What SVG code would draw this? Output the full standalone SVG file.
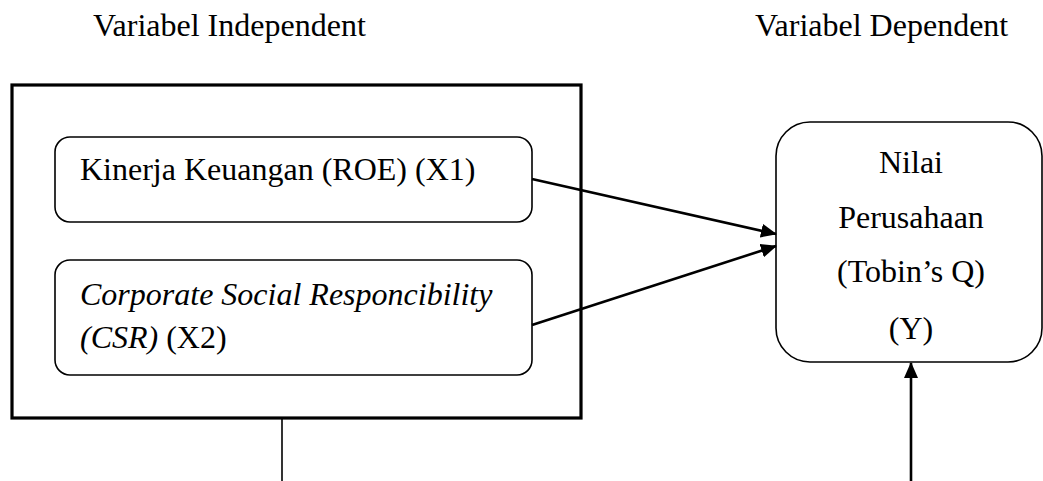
<svg xmlns="http://www.w3.org/2000/svg" width="1043" height="481" viewBox="0 0 1043 481">
<style>
text{font-family:"Liberation Serif","Times New Roman",serif;font-size:32px;fill:#000}
.it{font-style:italic}
.box{fill:#fff;stroke:#000;stroke-width:1.6}
.conn{stroke:#000;stroke-width:2.6;fill:none}
</style>
<defs>
<marker id="ah" markerWidth="16" markerHeight="14" refX="15" refY="7" orient="auto" markerUnits="userSpaceOnUse">
<path d="M0,0 L16,7 L0,14 Z" fill="#000"/>
</marker>
</defs>
<rect width="1043" height="481" fill="#fff"/>
<text x="93" y="36">Variabel Independent</text>
<text x="755" y="36">Variabel Dependent</text>
<g id="independent-group">
<rect x="12" y="85" width="569" height="333" fill="none" stroke="#000" stroke-width="3.2"/>
</g>
<g id="x1">
<rect class="box" x="55" y="137" width="477" height="85" rx="15"/>
<text x="80" y="180">Kinerja Keuangan (ROE) (X1)</text>
</g>
<g id="x2">
<rect class="box" x="55" y="260" width="477" height="115" rx="15"/>
<text x="80" y="305" class="it">Corporate Social Responcibility</text>
<text x="80" y="348"><tspan class="it">(CSR)</tspan> (X2)</text>
</g>
<g id="y">
<rect class="box" x="776" y="122" width="266" height="240" rx="34"/>
<text x="911" y="173" text-anchor="middle">Nilai</text>
<text x="911" y="228" text-anchor="middle">Perusahaan</text>
<text x="911" y="282" text-anchor="middle">(Tobin’s Q)</text>
<text x="911" y="339" text-anchor="middle">(Y)</text>
</g>
<g id="connectors">
<line class="conn" x1="532" y1="179" x2="776" y2="234" marker-end="url(#ah)"/>
<line class="conn" x1="532" y1="325" x2="776" y2="246" marker-end="url(#ah)"/>
<line class="conn" x1="911" y1="481" x2="911" y2="363" marker-end="url(#ah)"/>
<line x1="282" y1="419" x2="282" y2="481" stroke="#000" stroke-width="1.6"/>
</g>
</svg>
